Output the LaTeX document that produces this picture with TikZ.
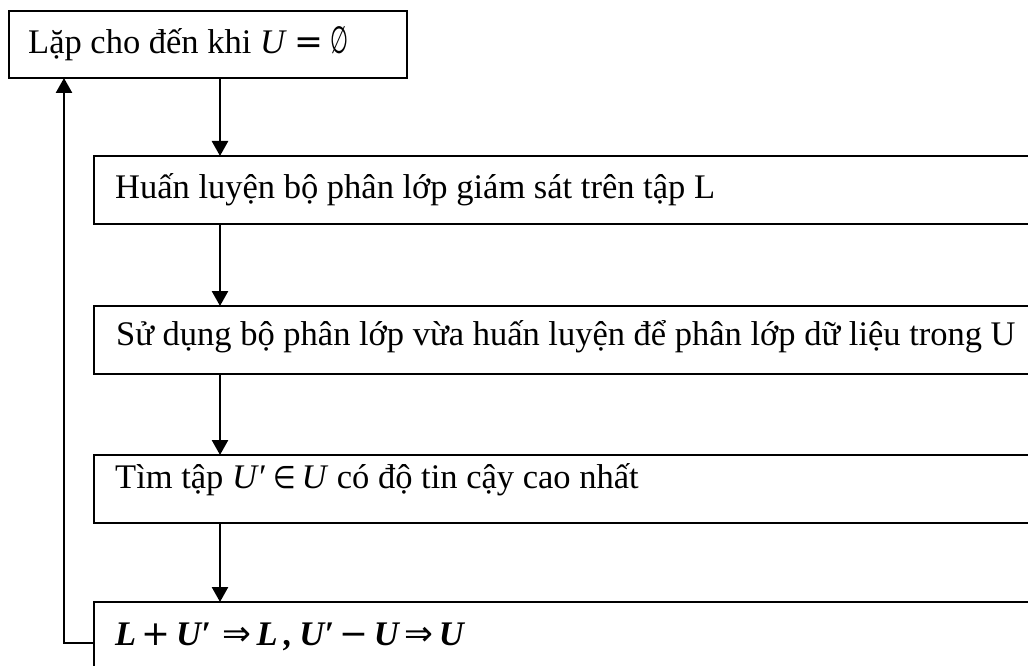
\documentclass[tikz,border=0pt]{standalone}
\usepackage{fontspec}
\usepackage{graphicx}
\setmainfont{Liberation Serif}
\newfontfamily\symf{DejaVu Sans}
\usetikzlibrary{arrows.meta}
\newcommand\sym[1]{{\symf\mdseries\upshape #1}}
\newcommand\gp{\hspace{5.5pt}}
\begin{document}
\begin{tikzpicture}[x=1pt,y=-1pt,
  box/.style={draw=black,line width=1.4pt,rectangle,outer sep=0pt,inner sep=0pt,anchor=north west},
  wide/.style={box,minimum width=950pt,minimum height=68pt},
  txt/.style={anchor=base west,inner sep=0pt,font=\fontsize{34.5}{41}\selectfont},
  arr/.style={line width=2.6pt,-{Triangle[width=16pt,length=15pt]}}]
\useasboundingbox (0,0) rectangle (1028,666);
\clip (0,0) rectangle (1028,666);
% the steps of the loop
\node[box,minimum width=398pt,minimum height=67pt] (b1) at (9,11) {};
\node[wide] (b2) at (94,156) {};
\node[wide] (b3) at (94,306) {};
\node[wide] (b4) at (94,455) {};
\node[wide,minimum height=82pt] (b5) at (94,602) {};
% labels
\node[txt] (t1) at (28,54) {Lặp cho đến khi \textit{U}\hspace{8pt}\sym{=}\hspace{7pt}\scalebox{0.6}[1.1]{\sym{∅}}};
\node[txt] (t2) at (115,198) {Huấn luyện bộ phân lớp giám sát trên tập L};
\node[txt] (t3) at (116,345) {Sử dụng bộ phân lớp vừa huấn luyện để phân lớp dữ liệu trong U};
\node[txt] (t4) at (115,488) {Tìm tập \textit{U′}\hspace{9pt}\scalebox{0.75}[0.9]{\sym{∈}}\hspace{5pt}\textit{U} có độ tin cậy cao nhất};
\node[txt] (t5) at (115,645) {\bfseries\itshape L\gp\sym{+}\gp U′\hspace{6pt}\gp\sym{⇒}\gp L\hspace{6pt},\hspace{7pt}U′\gp\sym{−}\gp U\gp\sym{⇒}\gp U};
% connectors
\coordinate (ax) at (220,0);
\coordinate (lx) at (64,0);
\draw[arr] (b1.south -| ax) -- (b2.north -| ax);
\draw[arr] (b2.south -| ax) -- (b3.north -| ax);
\draw[arr] (b3.south -| ax) -- (b4.north -| ax);
\draw[arr] (b4.south -| ax) -- (b5.north -| ax);
\draw[arr] (b5.west) -| (b1.south -| lx);
\end{tikzpicture}
\end{document}
